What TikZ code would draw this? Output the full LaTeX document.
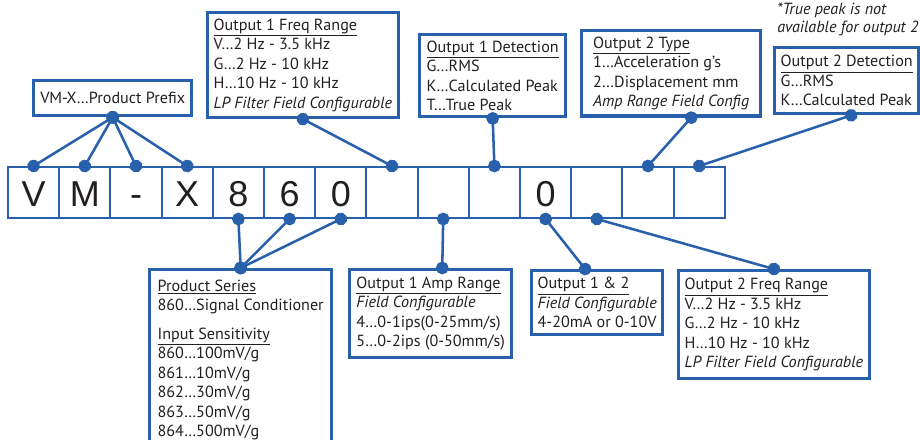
\documentclass[tikz,border=0pt]{standalone}
\usepackage{fontspec}
\setmainfont{PT Sans}
\newfontfamily\cellfont{Liberation Sans}
\usepackage{xcolor}
\usepackage{tikz}
\usetikzlibrary{calc}
\usetikzlibrary{arrows.meta}
\definecolor{vmblue}{HTML}{2860AC}
\definecolor{vmtext}{HTML}{231F20}

\begin{document}
\begin{tikzpicture}[x=0.75pt, y=-0.75pt,
  cell/.style={rectangle, draw=vmblue, line width=1.5pt, minimum width=38.4pt, minimum height=38.25pt, inner sep=0pt, text height=20.25pt, text depth=0pt, text=vmtext, font=\cellfont\fontsize{27}{27}\selectfont},
  info/.style={rectangle, draw=vmblue, line width=2.5pt, anchor=north west, align=left, inner xsep=4.5pt, inner ysep=4.5pt, text=vmtext, font=\fontsize{12.1}{14.6}\selectfont},
  note/.style={anchor=north west, align=left, inner sep=0pt, text=vmtext, font=\itshape\fontsize{12.1}{13.5}\selectfont},
  link/.style={draw=vmblue, line width=1.9pt, {Circle[length=9.5pt]}-{Circle[length=9.5pt]}, shorten <=-4.75pt, shorten >=-4.75pt}]
\clip (0,0) rectangle (920,439);
% code cells
\foreach \ch [count=\i] in {V,M,-,X,8,6,0,{},{},{},0,{},{},{}}
  \node[cell] (c\i) at ({33.6+51.2*(\i-1)}, 192.5) {\ch};
% boxes above
\node[info, align=center, minimum width=118.5pt, minimum height=26.25pt] (prefix) at (32,79) {VM-X…Product Prefix};
\node[info, minimum width=141pt, minimum height=77.25pt] (freq1) at (206,11)
  {\underline{Output 1 Freq Range}\\ V…2 Hz - 3.5 kHz\\ G…2 Hz - 10 kHz\\ H…10 Hz - 10 kHz\\ \textit{LP Filter Field Configurable}};
\node[info, minimum width=109.5pt, minimum height=60.75pt] (det1) at (418,33)
  {\underline{Output 1 Detection}\\ G…RMS\\ K…Calculated Peak\\ T…True Peak};
\node[info, minimum width=134.25pt, minimum height=63pt] (type2) at (580,29)
  {\underline{Output 2 Type}\\ 1…Acceleration g’s\\ 2…Displacement mm\\ \textit{Amp Range Field Config}};
\node[info, minimum width=106.5pt, minimum height=49.5pt] (det2) at (773,46)
  {\underline{Output 2 Detection}\\ G…RMS\\ K…Calculated Peak};
\node[note] (peaknote) at (777,3) {*True peak is not\\ available for output 2};
% boxes below
\node[info, minimum width=136.5pt, inner ysep=7.5pt] (series) at (148,268)
  {\underline{Product Series}\\ 860…Signal Conditioner\\[7pt] \underline{Input Sensitivity}\\ 860…100mV/g\\ 861…10mV/g\\ 862…30mV/g\\ 863…50mV/g\\ 864…500mV/g};
\node[info, minimum width=121.5pt, minimum height=66pt] (amp1) at (348,268)
  {\underline{Output 1 Amp Range}\\ \textit{Field Configurable}\\ 4…0-1ips(0-25mm/s)\\ 5…0-2ips (0-50mm/s)};
\node[info, minimum width=96.75pt, minimum height=48pt] (out12) at (530,269)
  {\underline{Output 1 \& 2}\\ \textit{Field Configurable}\\ 4-20mA or 0-10V};
\node[info, minimum width=141pt, minimum height=81pt] (freq2) at (677,269)
  {\underline{Output 2 Freq Range}\\ V…2 Hz - 3.5 kHz\\ G…2 Hz - 10 kHz\\ H…10 Hz - 10 kHz\\ \textit{LP Filter Field Configurable}};
% pin points off the box centres
\coordinate (type2 pin) at ($(type2.south west)!0.61!(type2.south east)$);
\coordinate (det2 pin) at ($(det2.south west)!0.53!(det2.south east)$);
\coordinate (amp1 pin) at ($(amp1.north west)!0.57!(amp1.north east)$);
\coordinate (out12 pin) at ($(out12.north west)!0.41!(out12.north east)$);
\begin{scope}[every path/.style=link]
\foreach \i in {1,...,4}
  \path (prefix.south) -- (c\i.north);
\path (freq1.south) -- (c8.north);
\path (det1.south) -- (c10.north);
\path (type2 pin) -- (c13.north);
\path (det2 pin) -- (c14.north);
\foreach \i in {5,6,7}
  \path (series.north) -- (c\i.south);
\path (amp1 pin) -- (c9.south);
\path (out12 pin) -- (c11.south);
\path (freq2.north) -- (c12.south);
\end{scope}
\end{tikzpicture}
\end{document}
